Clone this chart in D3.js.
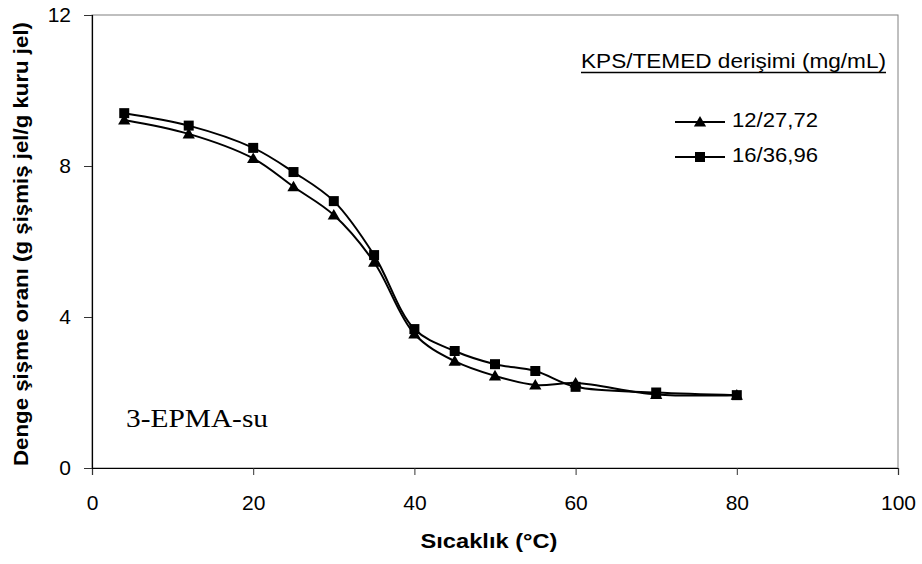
<!DOCTYPE html>
<html>
<head>
<meta charset="utf-8">
<script src="https://cdn.jsdelivr.net/npm/d3@7"></script>
<style>
  body { margin: 0; background: #fff; }
  text { font-family: "Liberation Sans", Arial, sans-serif; }
</style>
</head>
<body>
<div id="chart"></div>
<script>
// Step 1: data
var temps = [4, 12, 20, 25, 30, 35, 40, 45, 50, 55, 60, 70, 80];
var seriesA = [9.22, 8.85, 8.2, 7.45, 6.7, 5.45, 3.55, 2.83, 2.44, 2.2, 2.25, 1.95, 1.93]; // 12/27,72
var seriesB = [9.40, 9.07, 8.48, 7.84, 7.07, 5.64, 3.68, 3.1, 2.75, 2.57, 2.15, 2.0, 1.93]; // 16/36,96
var seriesNames = ["12/27,72", "16/36,96"];
var xTicks = [0, 20, 40, 60, 80, 100];
var yTicks = [0, 4, 8, 12];

// Step 2: set up chart
var svgWidth = 922;
var svgHeight = 564;
var margin = { top: 15, right: 24, bottom: 96, left: 92 };
var width = svgWidth - margin.left - margin.right;
var height = svgHeight - margin.top - margin.bottom;

var svg = d3.select("#chart")
  .append("svg")
  .attr("width", svgWidth)
  .attr("height", svgHeight);

var chartGroup = svg.append("g")
  .attr("transform", `translate(${margin.left}, ${margin.top})`);

var xScale = d3.scaleLinear().domain([0, 100]).range([0, width]);
var yScale = d3.scaleLinear().domain([0, 12]).range([height, 0]);

// plot area border (grey top/right)
chartGroup.append("rect")
  .attr("width", width)
  .attr("height", height)
  .attr("fill", "none")
  .attr("stroke", "#808080")
  .attr("stroke-width", 1);

// axes
var bottomAxis = d3.axisBottom(xScale).tickValues(xTicks).tickSize(7).tickPadding(20);
var leftAxis = d3.axisLeft(yScale).tickValues(yTicks).tickSize(8).tickPadding(13);

var xAxis = chartGroup.append("g")
  .attr("transform", `translate(0, ${height})`)
  .call(bottomAxis);
var yAxis = chartGroup.append("g").call(leftAxis);

[xAxis, yAxis].forEach(function(ax) {
  ax.select(".domain").attr("stroke", "#000").attr("stroke-width", 1.2);
  ax.selectAll(".tick line").attr("stroke", "#333");
  ax.selectAll(".tick text")
    .attr("fill", "#000")
    .style("font-size", "21px")
    .style("font-family", "'Liberation Sans', Arial, sans-serif");
});

// axis titles
chartGroup.append("text")
  .attr("x", 489 - margin.left)
  .attr("y", height + 80)
  .attr("text-anchor", "middle")
  .attr("textLength", 137)
  .attr("lengthAdjust", "spacingAndGlyphs")
  .style("font-size", "21px")
  .style("font-weight", "bold")
  .text("Sıcaklık (°C)");

chartGroup.append("text")
  .attr("transform", "rotate(-90)")
  .attr("x", -(244 - margin.top))
  .attr("y", -64)
  .attr("text-anchor", "middle")
  .attr("textLength", 444)
  .attr("lengthAdjust", "spacingAndGlyphs")
  .style("font-size", "20px")
  .style("font-weight", "bold")
  .text("Denge şişme oranı (g şişmiş jel/g kuru jel)");

// lines
var line = d3.line()
  .x(d => xScale(d[0]))
  .y(d => yScale(d[1]))
  .curve(d3.curveCatmullRom.alpha(0.5));

var allSeries = [seriesA, seriesB];
var symbols = [d3.symbolTriangle, d3.symbolSquare];
var symbolSizes = [65, 100];

allSeries.forEach(function(vals, i) {
  var pts = temps.map((t, j) => [t, vals[j]]);
  chartGroup.append("path")
    .datum(pts)
    .attr("d", line)
    .attr("fill", "none")
    .attr("stroke", "#000")
    .attr("stroke-width", 2);

  chartGroup.selectAll(null)
    .data(pts)
    .enter()
    .append("path")
    .attr("d", d3.symbol().type(symbols[i]).size(symbolSizes[i]))
    .attr("transform", d => `translate(${xScale(d[0])}, ${yScale(d[1]) + (i === 0 ? 1 : 0)})`)
    .attr("fill", "#000");
});

// annotation
chartGroup.append("text")
  .attr("x", 126 - margin.left)
  .attr("y", 427 - margin.top)
  .attr("textLength", 142)
  .attr("lengthAdjust", "spacingAndGlyphs")
  .style("font-family", "'Liberation Serif', 'Times New Roman', serif")
  .style("font-size", "26px")
  .text("3-EPMA-su");

// legend
var legend = svg.append("g");
legend.append("text")
  .attr("x", 581)
  .attr("y", 68)
  .attr("textLength", 305)
  .attr("lengthAdjust", "spacingAndGlyphs")
  .style("font-size", "20px")
  .text("KPS/TEMED derişimi (mg/mL)");
legend.append("line")
  .attr("x1", 581).attr("x2", 886)
  .attr("y1", 72.5).attr("y2", 72.5)
  .attr("stroke", "#000").attr("stroke-width", 1.3);

var legendY = [122, 157];
seriesNames.forEach(function(name, i) {
  legend.append("line")
    .attr("x1", 675).attr("x2", 725)
    .attr("y1", legendY[i]).attr("y2", legendY[i])
    .attr("stroke", "#000").attr("stroke-width", 2);
  legend.append("path")
    .attr("d", d3.symbol().type(symbols[i]).size(symbolSizes[i]))
    .attr("transform", `translate(700, ${legendY[i] + (i === 0 ? 1 : 0)})`)
    .attr("fill", "#000");
  legend.append("text")
    .attr("x", 732)
    .attr("y", legendY[i] + 5)
    .attr("textLength", 86)
    .attr("lengthAdjust", "spacingAndGlyphs")
    .style("font-size", "21px")
    .text(name);
});
</script>
</body>
</html>
